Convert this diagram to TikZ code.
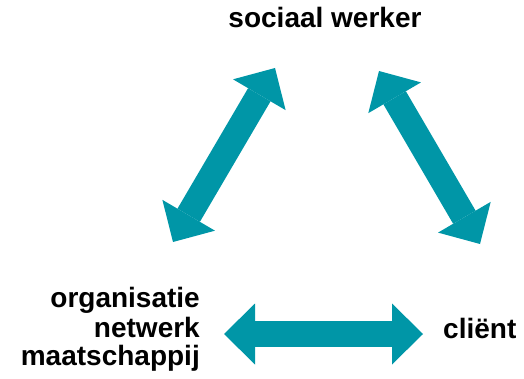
\documentclass[tikz,border=0pt]{standalone}
\usepackage{fontspec}
\setmainfont{Liberation Sans}
\usetikzlibrary{arrows.meta}
\definecolor{petrol}{RGB}{0,150,167}
\begin{document}
\begin{tikzpicture}[x=1pt,y=-1pt,inner sep=0pt,font=\fontsize{28}{26}\selectfont\bfseries,
		pijl/.tip={Triangle[length=31pt,width=61pt,line width=0pt]},
		dubbel/.style={draw=petrol,line width=26pt,pijl-pijl}]
	\useasboundingbox (0,0) rectangle (524,379);
	\node[anchor=base] (sw) at (325,28) {sociaal werker};
	\node[anchor=base east,align=right] (org) at (200,365) {organisatie\\[2pt]netwerk\\[2pt]maatschappij};
	\node[anchor=base west] (cl) at (443,338) {cliënt};
	% eindpunten van de pijlen
	\coordinate (swL) at (275,68); \coordinate (orgT) at (173,242);
	\coordinate (swR) at (379,71); \coordinate (clT) at (480,244);
	\coordinate (orgR) at (224,334); \coordinate (clL) at (423,334);
	\draw[dubbel] (orgT)--(swL);
	\draw[dubbel] (swR)--(clT);
	\draw[dubbel] (orgR)--(clL);
\end{tikzpicture}
\end{document}
